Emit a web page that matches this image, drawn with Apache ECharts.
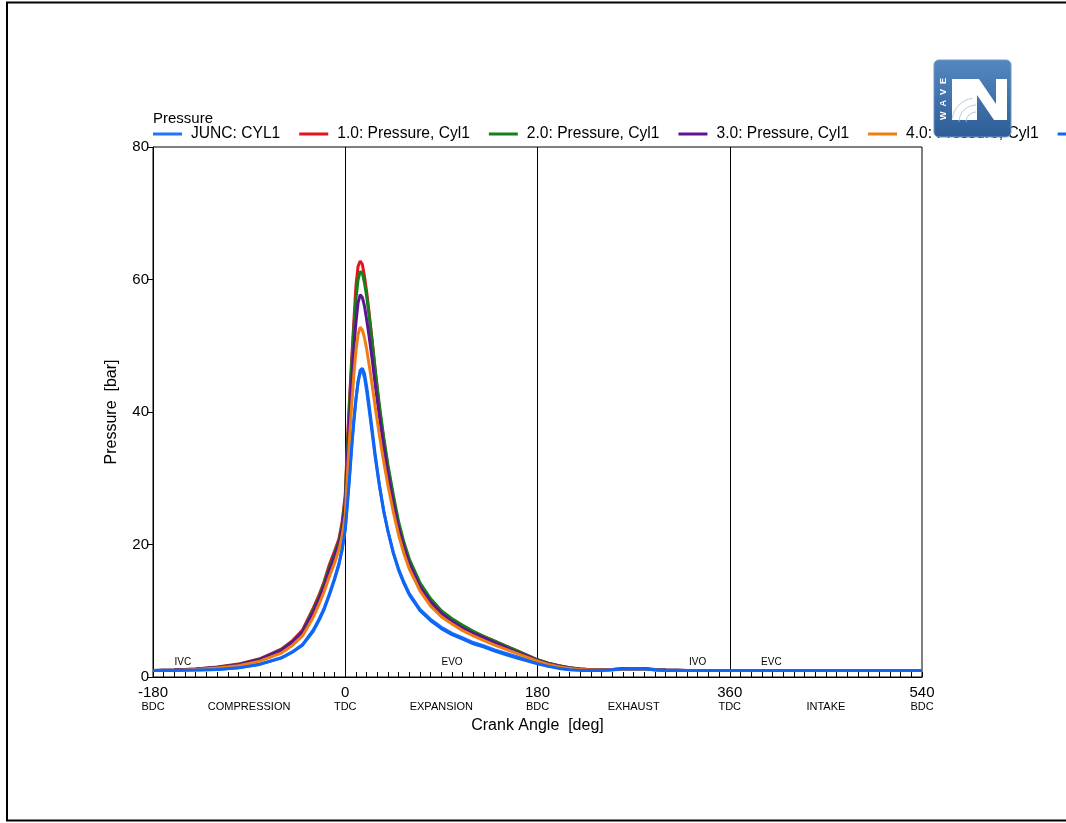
<!DOCTYPE html>
<html>
<head>
<meta charset="utf-8">
<title>Pressure - Cyl1</title>
<script src="https://cdn.jsdelivr.net/npm/echarts@6/dist/echarts.min.js"></script>
<style>
  html, body { margin: 0; padding: 0; background: #fff; }
  #chart { width: 1066px; height: 823px; }
</style>
</head>
<body>
<div id="chart"></div>
<script>
// Crank angle samples [deg]
const crankAngle = [-180,-160,-140,-120,-100,-80,-60,
  -50,-40,-30,-25,-20,-15,-10,-6,-3,
  0,2,4,6,8,10,12,14,16,18,20,22,
  25,28,32,36,40,45,50,55,60,
  70,80,90,100,110,120,130,140,150,160,170,180,190,200,210,220,230,240,250,260,270,280,290,300,
  320,360,400,450,500,540];

// Cylinder pressure [bar] per case
const juncCyl1 = [1.0,1.0,1.05,1.15,1.4,1.95,2.9,
  3.75,4.9,7.1,8.6,10.3,12.5,14.9,17.1,19.3,
  22.5,26.5,30.5,35,38.8,42,44.5,46,46.2,45.2,43.2,40.8,
  37,33.2,28.8,25,22,18.8,16.3,14.3,12.6,
  10.2,8.7,7.5,6.6,5.9,5.2,4.7,4.1,3.6,3.1,2.6,2.1,1.7,1.35,1.15,1.05,1.0,1.0,1.1,1.2,1.25,1.2,1.1,1.0,
  1.0,1.0,1.0,1.0,1.0,1.0];
const case1 = [1.0,1.05,1.2,1.5,1.95,2.75,4.2,
  5.4,7.1,10.4,12.2,14.3,16.9,19.0,20.8,23.3,
  27.5,35.5,42,48,53.5,59,62,62.8,62.3,60.5,58.2,55.5,
  51,46.3,40.5,35.8,31.5,27,23,20,17.5,
  14,11.6,9.9,8.7,7.7,6.8,6.1,5.4,4.7,4.0,3.3,2.6,2.1,1.7,1.4,1.2,1.1,1.1,1.15,1.25,1.3,1.25,1.15,1.05,
  1.0,1.0,1.0,1.0,1.0,1.0];
const case2 = [1.0,1.05,1.2,1.45,1.9,2.7,4.1,
  5.3,6.9,10.1,11.9,14.0,16.5,18.6,20.5,22.8,
  27,34.5,41,47,52.5,57,60,61.2,61,59.5,57.5,55,
  51,46.5,41,36.2,32,27.5,23.4,20.3,17.8,
  14.2,11.8,10.0,8.8,7.8,6.9,6.1,5.4,4.7,4.0,3.3,2.6,2.1,1.7,1.4,1.2,1.1,1.1,1.15,1.2,1.25,1.25,1.15,1.05,
  1.0,1.0,1.0,1.0,1.0,1.0];
const case3 = [1.0,1.05,1.18,1.45,1.85,2.65,4.0,
  5.2,6.8,9.8,11.6,13.6,16.1,18.2,20.1,22.3,
  26,33,39,44.5,49.5,53.5,56.5,57.7,57.3,56,54,51.8,
  48.2,44.2,39.3,34.8,30.7,26.3,22.5,19.5,17.1,
  13.6,11.3,9.6,8.4,7.4,6.6,5.9,5.2,4.5,3.8,3.2,2.5,2.0,1.65,1.35,1.2,1.1,1.1,1.15,1.2,1.25,1.2,1.1,1.05,
  1.0,1.0,1.0,1.0,1.0,1.0];
const case4 = [1.0,1.0,1.12,1.35,1.7,2.4,3.6,
  4.7,6.2,9.0,10.8,12.8,15.1,17.2,19.2,21.3,
  24.5,30.5,36,41,45.5,49.2,51.7,52.8,52.4,51.2,49.5,47.5,
  44.3,40.8,36.5,32.5,28.9,24.9,21.4,18.6,16.3,
  13.0,10.7,9.1,8.0,7.0,6.2,5.5,4.8,4.2,3.6,3.0,2.4,1.9,1.55,1.3,1.15,1.05,1.05,1.1,1.15,1.2,1.15,1.1,1.0,
  1.0,1.0,1.0,1.0,1.0,1.0];
const case5 = [1.0,1.0,1.05,1.15,1.38,1.9,2.85,
  3.7,4.8,6.9,8.4,10.1,12.3,14.7,16.9,19.1,
  22.2,26,30,34.5,38.4,41.8,44.6,46.3,46.6,45.8,43.9,41.5,
  37.6,33.6,29,25.1,22,18.7,16.1,14.1,12.4,
  10.0,8.5,7.3,6.4,5.7,5.0,4.5,3.9,3.4,2.9,2.45,2.0,1.6,1.3,1.1,1.0,1.0,1.0,1.1,1.2,1.25,1.2,1.1,1.0,
  1.0,1.0,1.0,1.0,1.0,1.0];

const seriesNames = ['JUNC: CYL1','1.0: Pressure, Cyl1','2.0: Pressure, Cyl1','3.0: Pressure, Cyl1','4.0: Pressure, Cyl1','5.0: Pressure, Cyl1'];
const seriesValues = [juncCyl1, case1, case2, case3, case4, case5];
const seriesColors = ['#1f74ff','#e3141b','#14801a','#5c1494','#ef7d14','#0f66f5'];

// Tick labels along the crank angle axis
const strokeMarks = {'-180':'BDC','0':'TDC','180':'BDC','360':'TDC','540':'BDC'};
const strokeNames = {'-90':'COMPRESSION','90':'EXPANSION','270':'EXHAUST','450':'INTAKE'};
const yTicks = [0, 20, 40, 60, 80];

// Valve events
const valveEvents = [
  { name: 'IVC', angle: -152 },
  { name: 'EVO', angle: 100 },
  { name: 'IVO', angle: 330 },
  { name: 'EVC', angle: 399 }
];

const FONT = 'Liberation Sans, Arial, Helvetica, sans-serif';
const BADGE_Z = 200;

const chart = echarts.init(document.getElementById('chart'), null, { renderer: 'canvas' });

const series = seriesNames.map((name, i) => {
  const s = {
    name: name,
    type: 'line',
    data: crankAngle.map((a, k) => [a, seriesValues[i][k]]),
    showSymbol: false,
    symbol: 'none',
    lineStyle: { width: 3, color: seriesColors[i] },
    itemStyle: { color: seriesColors[i] },
    z: 3,
    silent: true
  };
  if (i === 0) {
    s.markLine = {
      silent: true,
      symbol: ['none', 'none'],
      label: { show: false },
      lineStyle: { color: '#000', width: 1, type: 'solid' },
      data: [{ xAxis: 0 }, { xAxis: 180 }, { xAxis: 360 }],
      z: 1
    };
    s.markPoint = {
      silent: true,
      symbol: 'circle',
      symbolSize: 0,
      label: {
        show: true, position: 'inside', formatter: '{b}',
        fontFamily: FONT, fontSize: 10, color: '#000'
      },
      data: valveEvents.map(e => ({ name: e.name, coord: [e.angle, 2.3] }))
    };
  }
  return s;
});

const option = {
  animation: false,
  backgroundColor: '#fff',
  title: {
    text: 'Pressure',
    left: 148, top: 106,
    textStyle: { fontFamily: FONT, fontSize: 15, fontWeight: 'normal', color: '#000' }
  },
  legend: {
    type: 'plain',
    left: 148, top: 121,
    width: 1600,
    icon: 'rect',
    itemWidth: 29, itemHeight: 3,
    itemGap: 19,
    z: 2,
    data: seriesNames,
    textStyle: { fontFamily: FONT, fontSize: 15.6, color: '#000', padding: [0, 0, 0, 4] }
  },
  grid: {
    left: 153, right: 144, top: 147, bottom: 146,
    show: true, borderColor: '#000', borderWidth: 1, backgroundColor: 'transparent'
  },
  xAxis: {
    type: 'value',
    min: -180, max: 540, interval: 90,
    name: 'Crank Angle  [deg]',
    nameLocation: 'middle', nameGap: 35,
    nameTextStyle: { fontFamily: FONT, fontSize: 16, color: '#000' },
    axisLine: { show: true, onZero: false, lineStyle: { color: '#000', width: 1 } },
    axisTick: { show: true, inside: true, length: 5, lineStyle: { color: '#000' } },
    minorTick: { show: true, splitNumber: 9, length: 5, lineStyle: { color: '#000' } },
    splitLine: { show: false },
    axisLabel: {
      margin: 8,
      fontFamily: FONT,
      color: '#000',
      formatter: function (v) {
        const key = String(v);
        if (strokeMarks[key]) return '{v|' + key + '}\n{s|' + strokeMarks[key] + '}';
        if (strokeNames[key]) return '{v| }\n{s|' + strokeNames[key] + '}';
        return '';
      },
      rich: {
        v: { fontFamily: FONT, fontSize: 15, lineHeight: 16, color: '#000', align: 'center' },
        s: { fontFamily: FONT, fontSize: 11, lineHeight: 12, color: '#000', align: 'center' }
      }
    }
  },
  yAxis: {
    type: 'value',
    min: yTicks[0], max: yTicks[yTicks.length - 1], interval: 20,
    name: 'Pressure  [bar]',
    nameLocation: 'middle', nameGap: 33,
    nameTextStyle: { fontFamily: FONT, fontSize: 16, color: '#000' },
    axisLine: { show: true, onZero: false, lineStyle: { color: '#000', width: 1 } },
    axisTick: { show: true, inside: false, length: 6, lineStyle: { color: '#000' } },
    splitLine: { show: false },
    axisLabel: { margin: 4, fontFamily: FONT, fontSize: 15, color: '#000' }
  },
  graphic: {
    elements: [
      // page frame
      {
        type: 'rect', z: 100, silent: true,
        shape: { x: 7, y: 2.5, width: 1120, height: 818 },
        style: { fill: 'none', stroke: '#000', lineWidth: 2 }
      },
      // WAVE badge
      {
        type: 'rect', z: BADGE_Z, silent: true,
        shape: { x: 934, y: 60, width: 77, height: 77, r: 5 },
        style: {
          fill: new echarts.graphic.LinearGradient(0, 0, 0, 1, [
            { offset: 0, color: '#5487c0' },
            { offset: 1, color: '#2e5d96' }
          ]),
          stroke: '#6f9acb', lineWidth: 1
        }
      },
      {
        type: 'rect', z: BADGE_Z + 1, silent: true,
        shape: { x: 952, y: 79, width: 16, height: 41 },
        style: { fill: '#fff' }
      },
      {
        type: 'polygon', z: BADGE_Z + 1, silent: true,
        shape: { points: [[967,120],[967,79],[979,79],[996,104],[996,79],[1007,79],[1007,120],[994,120],[977,95],[977,120]] },
        style: { fill: '#fff' }
      },
      {
        type: 'arc', z: BADGE_Z + 2, silent: true,
        shape: { cx: 976, cy: 122, r: 10, startAngle: Math.PI, endAngle: 1.5 * Math.PI },
        style: { stroke: '#a9bcd3', lineWidth: 0.8, fill: 'none' }
      },
      {
        type: 'arc', z: BADGE_Z + 2, silent: true,
        shape: { cx: 976, cy: 122, r: 17, startAngle: Math.PI, endAngle: 1.5 * Math.PI },
        style: { stroke: '#a9bcd3', lineWidth: 0.8, fill: 'none' }
      },
      {
        type: 'arc', z: BADGE_Z + 2, silent: true,
        shape: { cx: 976, cy: 122, r: 24, startAngle: Math.PI * 1.05, endAngle: 1.45 * Math.PI },
        style: { stroke: '#a9bcd3', lineWidth: 0.8, fill: 'none' }
      },
      {
        type: 'text', z: BADGE_Z + 2, silent: true,
        x: 944, y: 99, rotation: Math.PI / 2,
        style: {
          text: 'W  A  V  E', fill: '#fff', fontFamily: FONT, fontSize: 9, fontWeight: 'bold',
          align: 'center', verticalAlign: 'middle'
        }
      }
    ]
  },
  series: series
};

chart.setOption(option);
</script>
</body>
</html>
